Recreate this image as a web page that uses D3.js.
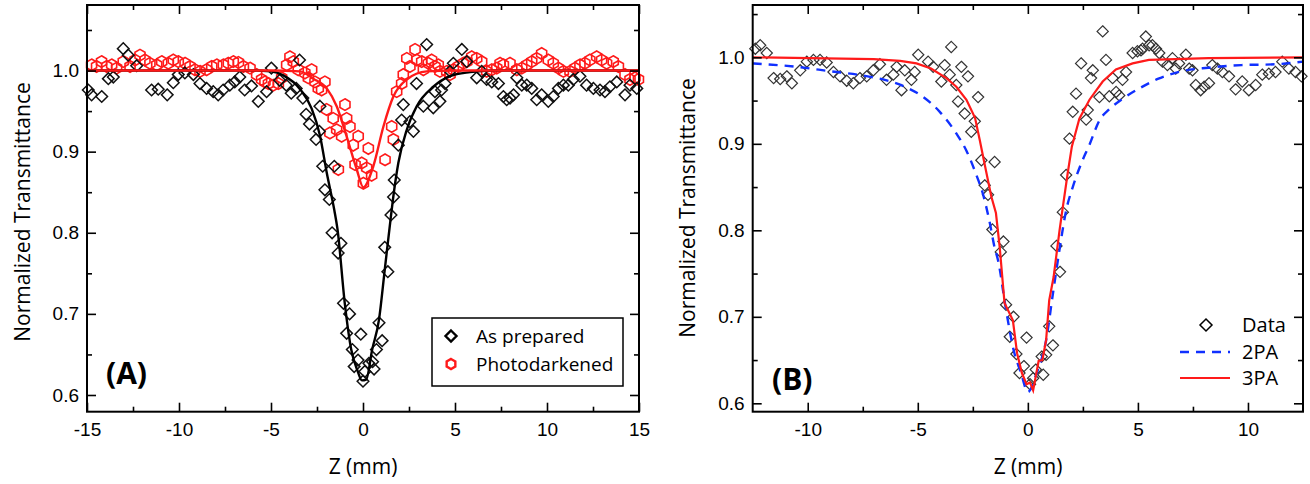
<!DOCTYPE html>
<html>
<head>
<meta charset="utf-8">
<script src="https://cdn.jsdelivr.net/npm/d3@7"></script>
<style>
body { margin: 0; background: #fff; }
.tick text { font-family: "Liberation Sans", Arial, sans-serif; font-size: 19px; fill: #000; }
.tick line { stroke: #000; stroke-width: 1.6px; }
.domain { display: none; }
.title { font-family: "Open Sans", sans-serif; font-size: 21px; fill: #000; }
.leg { font-family: "Open Sans", sans-serif; font-size: 19px; fill: #000; }
.legb { font-family: "Open Sans", sans-serif; font-size: 20px; fill: #000; }
.panel { font-family: "Open Sans", sans-serif; font-size: 30px; font-weight: bold; fill: #000; }
</style>
</head>
<body>
<div id="chart"></div>
<script>
// ---- panel A data (z in mm, normalized transmittance)
var asPrepared = [
  [-14.93,0.976],[-14.75,0.970],[-14.20,0.968],[-13.84,0.990],[-13.57,0.992],[-13.03,1.027],[-12.76,1.019],[-12.30,1.006],
  [-11.49,0.976],[-11.13,0.977],[-10.64,0.970],[-10.31,0.985],[-10.04,0.995],[-9.68,0.997],[-9.22,0.995],[-8.86,0.984],
  [-8.50,0.978],[-8.14,0.974],[-7.87,0.970],[-7.60,0.976],[-7.24,0.982],[-6.97,0.986],[-6.70,0.992],[-6.43,0.976],
  [-6.06,0.981],[-5.69,0.962],[-5.24,0.974],[-4.98,1.003],[-4.53,0.988],[-4.17,0.982],[-3.90,0.972],[-3.63,0.978],
  [-3.45,1.013],[-3.27,0.966],[-3.09,0.946],[-2.91,0.934],[-2.55,0.915],[-2.37,0.925],[-2.34,0.956],[-2.19,0.882],
  [-2.07,0.853],[-1.83,0.841],[-1.68,0.800],[-1.56,0.882],[-1.35,0.775],[-1.20,0.787],[-1.06,0.713],[-0.89,0.676],
  [-0.73,0.700],[-0.58,0.656],[-0.48,0.635],[-0.27,0.643],[-0.12,0.675],[0.00,0.617],[0.10,0.629],[0.32,0.639],
  [0.52,0.641],[0.60,0.632],[0.73,0.656],[0.87,0.689],[1.04,0.667],[1.18,0.782],[1.35,0.752],[1.52,0.822],
  [1.66,0.844],[1.70,0.865],[1.92,0.908],[2.10,0.939],[2.19,0.958],[2.55,0.937],[2.74,0.925],[2.91,0.984],
  [3.28,0.956],[3.46,1.032],[3.82,0.954],[3.91,0.974],[4.18,0.962],[4.27,0.976],[4.46,0.984],[4.73,0.999],
  [4.91,1.009],[5.37,1.026],[5.64,1.011],[6.18,0.991],[6.45,0.999],[6.72,0.989],[7.00,0.986],[7.36,0.984],
  [7.63,0.968],[7.81,0.964],[7.99,0.966],[8.18,0.970],[8.36,0.991],[8.63,0.982],[8.90,0.982],[9.17,0.978],
  [9.44,0.964],[9.71,0.970],[10.07,0.962],[10.34,0.968],[10.62,0.978],[10.89,0.982],[11.16,0.982],[11.43,0.989],
  [11.79,0.993],[12.15,0.982],[12.52,0.978],[12.88,0.976],[13.15,0.974],[13.42,0.980],[13.79,0.986],[14.24,0.970],
  [14.51,0.982],[14.88,0.978]
];
var photodarkened = [
  [-14.75,1.007],[-14.48,1.005],[-14.21,1.011],[-13.93,1.005],[-13.66,1.007],[-13.39,1.003],[-13.03,1.011],[-12.66,1.005],
  [-12.39,1.013],[-12.12,1.019],[-11.85,1.013],[-11.58,1.009],[-11.21,1.007],[-10.94,1.011],[-10.58,1.009],[-10.31,1.013],
  [-10.04,1.011],[-9.67,1.009],[-9.40,1.005],[-9.13,1.001],[-8.86,0.999],[-8.50,1.001],[-8.22,1.005],[-7.95,1.007],
  [-7.59,1.007],[-7.32,1.009],[-7.05,1.011],[-6.77,1.010],[-6.50,1.005],[-6.14,1.003],[-5.78,0.995],[-5.51,0.989],
  [-5.33,0.986],[-5.14,0.984],[-4.87,0.982],[-4.60,0.984],[-4.42,0.991],[-4.15,1.007],[-3.97,1.017],[-3.79,1.011],
  [-3.52,1.001],[-3.16,0.997],[-2.97,0.991],[-2.79,1.001],[-2.61,0.986],[-2.43,0.978],[-2.25,0.976],[-2.07,0.986],
  [-1.98,0.952],[-1.80,0.923],[-1.62,0.941],[-1.43,0.927],[-1.34,0.878],[-1.16,0.919],[-0.98,0.958],[-0.89,0.941],
  [-0.71,0.931],[-0.53,0.908],[-0.43,0.884],[-0.26,0.919],[-0.07,0.886],[0.02,0.861],[0.20,0.880],[0.29,0.904],
  [0.47,0.871],[1.20,0.890],[1.56,0.931],[1.65,0.915],[1.83,0.974],[2.10,0.984],[2.19,0.995],[2.38,1.015],
  [2.55,1.005],[2.83,1.026],[2.92,1.013],[3.19,1.011],[3.28,1.001],[3.55,1.009],[3.73,1.013],[3.91,1.005],
  [4.09,1.007],[4.18,0.999],[4.55,0.999],[4.73,0.995],[4.91,1.001],[5.18,1.005],[5.45,1.009],[5.64,1.011],
  [5.91,1.017],[6.18,1.015],[6.45,1.011],[6.72,0.999],[7.00,1.001],[7.27,1.003],[7.45,1.009],[7.63,1.007],
  [7.99,1.009],[8.36,1.001],[8.63,1.003],[8.90,1.007],[9.17,1.011],[9.44,1.015],[9.71,1.021],[10.07,1.013],
  [10.34,1.009],[10.62,1.003],[10.89,0.999],[11.25,0.999],[11.52,1.003],[11.79,1.007],[12.06,1.009],[12.33,1.013],
  [12.70,1.017],[12.97,1.013],[13.24,1.009],[13.60,1.011],[13.88,1.005],[14.24,0.995],[14.51,0.989],[14.78,0.991],
  [14.97,0.989]
];
var fitPrepared = [
  [-15,1.0],[-6,1.0],[-5,0.999],[-4.33,0.994],[-3.42,0.977],[-2.79,0.953],[-2.34,0.920],[-1.97,0.874],[-1.56,0.828],
  [-1.39,0.805],[-0.99,0.713],[-0.64,0.656],[-0.30,0.630],[-0.06,0.618],[0.17,0.619],[0.50,0.656],[0.87,0.693],
  [1.18,0.754],[1.49,0.815],[1.65,0.845],[1.92,0.886],[2.38,0.927],[2.92,0.956],[3.82,0.980],[4.73,0.993],
  [5.82,0.998],[7,1.0],[15,1.0]
];
var fitDarkened = [
  [-15,1.0],[-5,1.0],[-3.42,0.999],[-2.70,0.990],[-1.97,0.978],[-1.43,0.956],[-0.89,0.919],[-0.34,0.878],[0.02,0.856],
  [0.56,0.882],[1.11,0.931],[1.65,0.968],[2.38,0.989],[3.46,0.999],[5,1.0],[15,1.0]
];

// ---- panel B data
var dataB = [
  [-12.38,1.010],[-12.16,1.014],[-11.86,1.005],[-11.55,0.976],[-11.25,0.975],[-10.95,0.978],[-10.72,0.970],[-10.34,0.985],
  [-10.04,0.995],[-9.74,0.997],[-9.44,0.997],[-9.14,0.994],[-8.83,0.983],[-8.53,0.978],[-8.23,0.973],[-7.93,0.970],
  [-7.63,0.976],[-7.32,0.978],[-7.02,0.985],[-6.72,0.992],[-6.42,0.974],[-6.11,0.980],[-5.96,0.989],[-5.74,0.962],
  [-5.59,0.985],[-5.29,0.974],[-5.14,0.983],[-4.98,1.003],[-4.53,0.995],[-4.30,0.989],[-3.93,0.972],[-3.78,0.991],
  [-3.55,0.980],[-3.48,1.012],[-3.25,0.968],[-3.17,0.949],[-3.02,0.989],[-2.87,0.935],[-2.72,0.978],[-2.57,0.914],
  [-2.41,0.926],[-2.26,0.954],[-2.11,0.881],[-1.96,0.852],[-1.81,0.841],[-1.61,0.801],[-1.51,0.879],[-1.23,0.775],
  [-1.11,0.787],[-0.99,0.714],[-0.82,0.677],[-0.65,0.700],[-0.52,0.657],[-0.38,0.635],[-0.18,0.643],[-0.06,0.676],
  [0.10,0.622],[0.24,0.629],[0.36,0.639],[0.63,0.654],[0.70,0.633],[0.83,0.656],[0.97,0.689],[1.14,0.667],
  [1.30,0.782],[1.46,0.752],[1.59,0.821],[1.74,0.864],[1.89,0.906],[2.04,0.937],[2.19,0.958],[2.42,0.993],
  [2.65,0.928],[2.72,0.939],[2.87,0.976],[2.95,0.985],[3.25,0.954],[3.40,1.030],[3.55,0.997],[3.70,0.955],
  [3.85,0.976],[4.01,0.960],[4.15,0.956],[4.30,0.974],[4.46,0.983],[4.76,1.005],[4.98,1.007],[5.14,1.008],
  [5.21,1.010],[5.36,1.024],[5.51,1.014],[5.66,1.014],[5.82,1.010],[5.97,1.005],[6.12,0.995],[6.34,0.991],
  [6.57,0.999],[6.72,0.987],[6.87,0.993],[7.18,1.003],[7.33,0.987],[7.48,0.985],[7.63,0.968],[7.85,0.962],
  [8.01,0.966],[8.23,0.970],[8.38,0.991],[8.61,0.987],[8.84,0.983],[9.14,0.978],[9.44,0.963],[9.74,0.972],
  [10.04,0.962],[10.35,0.968],[10.65,0.980],[10.95,0.981],[11.25,0.983],[11.56,0.995],[11.86,0.987],[12.16,0.983],
  [12.43,0.978]
];
var fit2PA = [
  [-12.5,0.993],[-10.5,0.989],[-9,0.984],[-7.5,0.979],[-6.5,0.974],[-5.5,0.965],[-4.8,0.955],[-4,0.937],[-3.25,0.912],
  [-2.79,0.892],[-2.34,0.864],[-2.04,0.842],[-1.74,0.810],[-1.51,0.780],[-1.36,0.766],[-0.99,0.708],[-0.65,0.662],
  [-0.31,0.635],[0.0,0.613],[0.40,0.635],[0.83,0.673],[1.14,0.727],[1.44,0.778],[1.74,0.823],[2.04,0.850],
  [2.42,0.877],[2.80,0.899],[3.25,0.927],[3.70,0.940],[4.30,0.952],[5.06,0.964],[5.90,0.975],[7.0,0.984],
  [8.2,0.988],[9.7,0.991],[11.25,0.992],[12.5,0.995]
];
var fit3PA = [
  [-12.5,1.0],[-7,0.998],[-5.8,0.996],[-5.06,0.993],[-4.4,0.987],[-3.7,0.976],[-3.25,0.966],[-2.79,0.951],[-2.4,0.930],
  [-2.19,0.905],[-1.96,0.876],[-1.66,0.839],[-1.45,0.820],[-1.28,0.781],[-1.06,0.716],[-0.68,0.696],[-0.49,0.658],
  [-0.27,0.635],[-0.06,0.622],[0.10,0.624],[0.24,0.615],[0.49,0.649],[0.66,0.650],[0.83,0.673],[0.97,0.719],
  [1.17,0.746],[1.44,0.800],[1.59,0.827],[1.81,0.866],[2.0,0.897],[2.34,0.929],[2.8,0.951],[3.4,0.972],
  [4.0,0.986],[4.76,0.993],[5.5,0.997],[6.7,0.998],[8.2,0.999],[12.5,1.0]
];

var xTicksA = [-15,-10,-5,0,5,10,15];
var xMinorA = [-12.5,-7.5,-2.5,2.5,7.5,12.5];
var xTicksB = [-10,-5,0,5,10];
var xMinorB = [-7.5,-2.5,2.5,7.5];
var yTicks = [0.6,0.7,0.8,0.9,1.0];
var yMinorA = [0.65,0.75,0.85,0.95,1.05];
var yMinorB = [0.65,0.75,0.85,0.95,1.05];

var width = 1310, height = 484;
var svg = d3.select("#chart").append("svg").attr("width", width).attr("height", height);

function diamond(r) { return "M0," + (-r) + "L" + r + ",0L0," + r + "L" + (-r) + ",0Z"; }
function hexagon(r) {
  var p = [];
  for (var i = 0; i < 6; i++) {
    var a = Math.PI / 3 * i - Math.PI / 2;
    p.push((r * Math.cos(a)).toFixed(2) + "," + (r * Math.sin(a)).toFixed(2));
  }
  return "M" + p.join("L") + "Z";
}

function frame(x, y, xt, xm, yt, ym) {
  var g = svg.append("g");
  var x0 = x.range()[0], x1 = x.range()[1], y0 = y.range()[0], y1 = y.range()[1];
  var fmt = d3.format(".1f");
  // plain hyphen for negatives, like the original
  var xfmt = function(d) { return String(d); };
  g.append("g").attr("transform", "translate(0," + y0 + ")")
    .call(d3.axisBottom(x).tickValues(xt).tickSize(-9).tickSizeOuter(0).tickPadding(11).tickFormat(xfmt));
  g.append("g").attr("transform", "translate(0," + y0 + ")")
    .call(d3.axisBottom(x).tickValues(xm).tickSize(-5).tickSizeOuter(0).tickFormat(""));
  g.append("g").attr("transform", "translate(0," + y1 + ")")
    .call(d3.axisTop(x).tickValues(xt).tickSize(-9).tickSizeOuter(0).tickFormat(""));
  g.append("g").attr("transform", "translate(0," + y1 + ")")
    .call(d3.axisTop(x).tickValues(xm).tickSize(-5).tickSizeOuter(0).tickFormat(""));
  g.append("g").attr("transform", "translate(" + x0 + ",0)")
    .call(d3.axisLeft(y).tickValues(yt).tickSize(-9).tickSizeOuter(0).tickPadding(8).tickFormat(fmt));
  g.append("g").attr("transform", "translate(" + x0 + ",0)")
    .call(d3.axisLeft(y).tickValues(ym).tickSize(-5).tickSizeOuter(0).tickFormat(""));
  g.append("g").attr("transform", "translate(" + x1 + ",0)")
    .call(d3.axisRight(y).tickValues(yt).tickSize(-9).tickSizeOuter(0).tickFormat(""));
  g.append("g").attr("transform", "translate(" + x1 + ",0)")
    .call(d3.axisRight(y).tickValues(ym).tickSize(-5).tickSizeOuter(0).tickFormat(""));
  g.append("rect").attr("x", x0).attr("y", y1).attr("width", x1 - x0).attr("height", y0 - y1)
    .attr("fill", "none").attr("stroke", "#000").attr("stroke-width", 2);
  return g;
}

// ================= panel A
var xA = d3.scaleLinear().domain([-15, 15]).range([87, 639]);
var yA = d3.scaleLinear().domain([0.5794, 1.0808]).range([411.7, 5]);
var lineA = d3.line().x(function(d) { return xA(d[0]); }).y(function(d) { return yA(d[1]); }).curve(d3.curveMonotoneX);

svg.append("g").selectAll("path").data(photodarkened).enter().append("path")
   .attr("d", hexagon(5.8))
   .attr("transform", function(d) { return "translate(" + xA(d[0]) + "," + yA(d[1]) + ")"; })
   .attr("fill", "none").attr("stroke", "#ff1a1a").attr("stroke-width", 1.6);
svg.append("g").selectAll("path").data(asPrepared).enter().append("path")
   .attr("d", diamond(5.8))
   .attr("transform", function(d) { return "translate(" + xA(d[0]) + "," + yA(d[1]) + ")"; })
   .attr("fill", "none").attr("stroke", "#111").attr("stroke-width", 1.5);
svg.append("path").datum(fitPrepared).attr("d", lineA)
   .attr("fill", "none").attr("stroke", "#000").attr("stroke-width", 2.4);
svg.append("path").datum(fitDarkened).attr("d", lineA)
   .attr("fill", "none").attr("stroke", "#ff1a1a").attr("stroke-width", 2.4);

frame(xA, yA, xTicksA, xMinorA, yTicks, yMinorA);

svg.append("text").attr("class", "title").attr("text-anchor", "middle")
   .attr("transform", "translate(30,212) rotate(-90)").text("Normalized Transmittance");
svg.append("text").attr("class", "title").attr("text-anchor", "middle")
   .attr("x", 363).attr("y", 474).text("Z (mm)");
svg.append("text").attr("class", "panel").attr("x", 106).attr("y", 384).text("(A)");

// legend A
svg.append("rect").attr("x", 432).attr("y", 318).attr("width", 191).attr("height", 68)
   .attr("fill", "#fff").attr("stroke", "#000").attr("stroke-width", 1.5);
svg.append("path").attr("d", diamond(5.5)).attr("transform", "translate(451,336)")
   .attr("fill", "none").attr("stroke", "#000").attr("stroke-width", 2.4);
svg.append("path").attr("d", hexagon(5)).attr("transform", "translate(451,364)")
   .attr("fill", "none").attr("stroke", "#ff1a1a").attr("stroke-width", 2.4);
svg.append("text").attr("class", "leg").attr("x", 476).attr("y", 343).text("As prepared");
svg.append("text").attr("class", "leg").attr("x", 476).attr("y", 371).text("Photodarkened");

// ================= panel B
var xB = d3.scaleLinear().domain([-12.5, 12.5]).range([752.7, 1303]);
var yB = d3.scaleLinear().domain([0.5903, 1.0605]).range([411.7, 5]);
var lineB = d3.line().x(function(d) { return xB(d[0]); }).y(function(d) { return yB(d[1]); });

svg.append("g").selectAll("path").data(dataB).enter().append("path")
   .attr("d", diamond(5.6))
   .attr("transform", function(d) { return "translate(" + xB(d[0]) + "," + yB(d[1]) + ")"; })
   .attr("fill", "none").attr("stroke", "#333").attr("stroke-width", 1.2);
svg.append("path").datum(fit2PA).attr("d", lineB.curve(d3.curveMonotoneX))
   .attr("fill", "none").attr("stroke", "#1030ff").attr("stroke-width", 2.4).attr("stroke-dasharray", "9,7");
svg.append("path").datum(fit3PA).attr("d", lineB.curve(d3.curveLinear))
   .attr("fill", "none").attr("stroke", "#ff1a1a").attr("stroke-width", 2.2);

frame(xB, yB, xTicksB, xMinorB, yTicks, yMinorB);

svg.append("text").attr("class", "title").attr("text-anchor", "middle")
   .attr("transform", "translate(695,208) rotate(-90)").text("Normalized Transmittance");
svg.append("text").attr("class", "title").attr("text-anchor", "middle")
   .attr("x", 1028).attr("y", 474).text("Z (mm)");
svg.append("text").attr("class", "panel").attr("x", 772).attr("y", 390).text("(B)");

// legend B
svg.append("path").attr("d", diamond(6)).attr("transform", "translate(1206,325)")
   .attr("fill", "none").attr("stroke", "#000").attr("stroke-width", 1.5);
svg.append("line").attr("x1", 1180).attr("x2", 1230).attr("y1", 352).attr("y2", 352)
   .attr("stroke", "#1030ff").attr("stroke-width", 2.4).attr("stroke-dasharray", "9,7");
svg.append("line").attr("x1", 1180).attr("x2", 1230).attr("y1", 378).attr("y2", 378)
   .attr("stroke", "#ff1a1a").attr("stroke-width", 2.2);
svg.append("text").attr("class", "legb").attr("x", 1242).attr("y", 332).text("Data");
svg.append("text").attr("class", "legb").attr("x", 1242).attr("y", 359).text("2PA");
svg.append("text").attr("class", "legb").attr("x", 1242).attr("y", 385).text("3PA");
</script>
</body>
</html>
